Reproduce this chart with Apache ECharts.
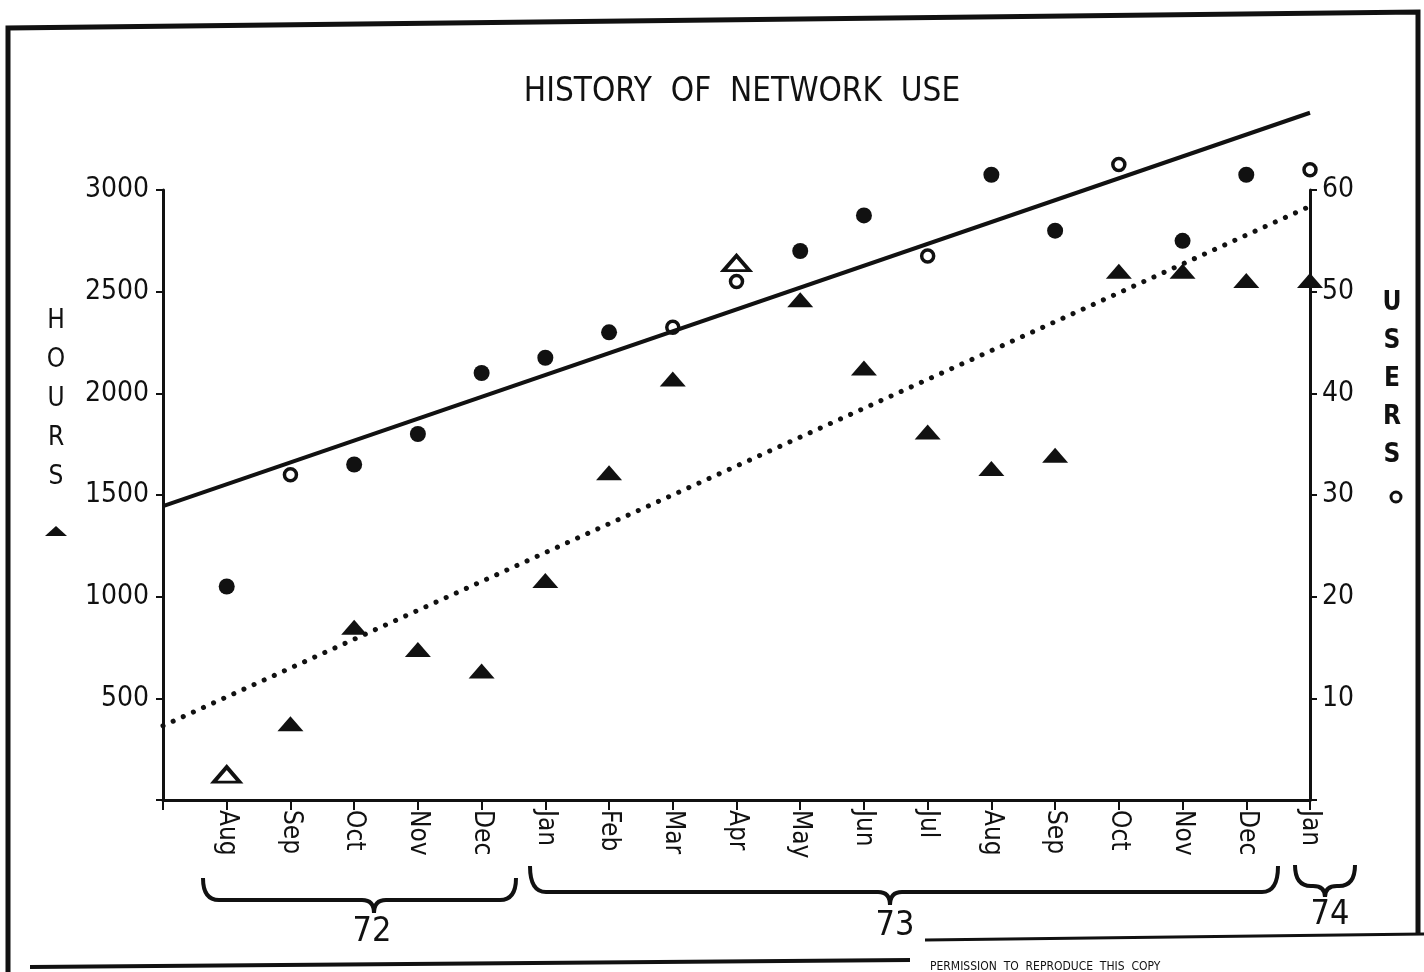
<!DOCTYPE html>
<html>
<head>
<meta charset="utf-8">
<title>History of network use</title>
<script src="https://cdn.jsdelivr.net/npm/echarts@6/dist/echarts.min.js"></script>
<style>
    html, body { margin: 0; padding: 0; background: #fff; }
    #main { width: 1424px; height: 972px; }
</style>
</head>
<body>
<div id="main"></div>
<script>
// months from Aug 72 to Jan 74, x index 0..17
var months = ['Aug', 'Sep', 'Oct', 'Nov', 'Dec', 'Jan', 'Feb', 'Mar', 'Apr',
    'May', 'Jun', 'Jul', 'Aug', 'Sep', 'Oct', 'Nov', 'Dec', 'Jan'];
// triangles, left axis
var hoursValues = [125, 375, 850, 740, 635, 1080, 1610, 2070, 2640,
    2460, 2125, 1810, 1630, 1695, 2600, 2600, 2555, 2555];
// circles, right axis
var usersValues = [21, 32, 33, 36, 42, 43.5, 46, 46.5, 51,
    54, 57.5, 53.5, 61.5, 56, 62.5, 55, 61.5, 62];
// fitted lines, value at the left axis (x = -1) and at the right axis (x = 17)
var hoursTrend = [365, 2920];
var usersTrend = [28.9, 67.6];
var trendX = [-1, 17];
var hoursTicks = [500, 1000, 1500, 2000, 2500, 3000];
var usersTicks = [10, 20, 30, 40, 50, 60];
var years = ['72', '73', '74'];

var hollowHours = [0, 8];
var hollowUsers = [1, 7, 8, 11, 14, 17];

var INK = '#111';
var FONT = "'Liberation Sans Narrow', 'DejaVu Sans Condensed', 'Open Sans', sans-serif";
var TRI = 'path://M0,12 L12,0 L24,12 Z';

var chart = echarts.init(document.getElementById('main'));

// curly brace under a group of months, drawn from curves and lines
function brace(x1, x2, xm, yTop, yLine, yTip) {
    var st = {stroke: INK, lineWidth: 4, fill: null};
    return [
        {type: 'bezierCurve', shape: {x1: x1, y1: yTop, cpx1: x1, cpy1: yLine, x2: x1 + 16, y2: yLine}, style: st},
        {type: 'line', shape: {x1: x1 + 16, y1: yLine, x2: xm - 12, y2: yLine}, style: st},
        {type: 'bezierCurve', shape: {x1: xm - 12, y1: yLine, cpx1: xm, cpy1: yLine, x2: xm, y2: yTip}, style: st},
        {type: 'bezierCurve', shape: {x1: xm, y1: yTip, cpx1: xm, cpy1: yLine, x2: xm + 12, y2: yLine}, style: st},
        {type: 'line', shape: {x1: xm + 12, y1: yLine, x2: x2 - 16, y2: yLine}, style: st},
        {type: 'bezierCurve', shape: {x1: x2 - 16, y1: yLine, cpx1: x2, cpy1: yLine, x2: x2, y2: yTop}, style: st}
    ];
}

function vertical(str) {
    return str.split('').join('\n');
}

var pointsOf = function (values, hollow) {
    return values.map(function (v, i) {
        var item = {value: [i, v]};
        if (hollow.indexOf(i) >= 0) {
            item.itemStyle = {color: '#fff', borderColor: INK, borderWidth: 3.5};
            item.symbolSize = hollow === hollowUsers ? 12 : undefined;
        }
        return item;
    });
};

var option = {
    backgroundColor: '#fff',
    animation: false,
    grid: {
        left: 163,
        right: 114,
        top: 190,
        bottom: 172
    },
    xAxis: {
        type: 'value',
        min: -1,
        max: 17,
        interval: 1,
        axisLine: {onZero: false, lineStyle: {color: INK, width: 3}},
        axisTick: {length: 10, lineStyle: {color: INK, width: 2}},
        splitLine: {show: false},
        axisLabel: {
            rotate: -90,
            margin: 10,
            color: INK,
            fontFamily: FONT,
            fontSize: 26,
            formatter: function (v) {
                return months[v] || '';
            }
        }
    },
    yAxis: [{
        type: 'value',
        min: 0,
        max: hoursTicks[hoursTicks.length - 1],
        interval: 500,
        axisLine: {show: true, onZero: false, lineStyle: {color: INK, width: 3}},
        axisTick: {show: true, length: 7, lineStyle: {color: INK, width: 2}},
        splitLine: {show: false},
        axisLabel: {
            margin: 14,
            color: INK,
            fontFamily: FONT,
            fontSize: 28,
            formatter: function (v) {
                return hoursTicks.indexOf(v) >= 0 ? v : '';
            }
        }
    }, {
        type: 'value',
        min: 0,
        max: usersTicks[usersTicks.length - 1],
        interval: 10,
        position: 'right',
        axisLine: {show: true, onZero: false, lineStyle: {color: INK, width: 3}},
        axisTick: {show: true, length: 7, lineStyle: {color: INK, width: 2}},
        splitLine: {show: false},
        axisLabel: {
            margin: 12,
            color: INK,
            fontFamily: FONT,
            fontSize: 28,
            formatter: function (v) {
                return usersTicks.indexOf(v) >= 0 ? v : '';
            }
        }
    }],
    series: [{
        name: 'users trend',
        type: 'line',
        yAxisIndex: 1,
        clip: false,
        symbol: 'none',
        data: trendX.map(function (x, i) { return [x, usersTrend[i]]; }),
        lineStyle: {color: INK, width: 4}
    }, {
        name: 'hours trend',
        type: 'line',
        yAxisIndex: 0,
        clip: false,
        symbol: 'none',
        data: trendX.map(function (x, i) { return [x, hoursTrend[i]]; }),
        lineStyle: {color: INK, width: 5, type: [0.1, 11], cap: 'round'}
    }, {
        name: 'hours',
        type: 'scatter',
        yAxisIndex: 0,
        clip: false,
        symbol: TRI,
        symbolSize: [26, 15],
        itemStyle: {color: INK, opacity: 1},
        data: pointsOf(hoursValues, hollowHours)
    }, {
        name: 'users',
        type: 'scatter',
        yAxisIndex: 1,
        clip: false,
        symbol: 'circle',
        symbolSize: 16,
        itemStyle: {color: INK, opacity: 1},
        data: pointsOf(usersValues, hollowUsers)
    }],
    graphic: [
        // page border of the scan
        {type: 'polyline', shape: {points: [[8, 972], [8, 28], [1418, 12], [1418, 935]]},
            style: {stroke: INK, lineWidth: 5, fill: null}},
        {type: 'line', shape: {x1: 30, y1: 967, x2: 910, y2: 960}, style: {stroke: INK, lineWidth: 4}},
        {type: 'line', shape: {x1: 925, y1: 940, x2: 1424, y2: 934}, style: {stroke: INK, lineWidth: 3}},
        {type: 'text', x: 930, y: 961, style: {
            text: 'PERMISSION  TO  REPRODUCE  THIS  COPY', fill: INK, font: '12px ' + FONT}},
        // title
        {type: 'text', x: 742, y: 92, style: {
            text: 'HISTORY  OF  NETWORK  USE', fill: INK, font: '33px ' + FONT,
            align: 'center', verticalAlign: 'middle'}},
        // axis names
        {type: 'text', x: 56, y: 302, style: {
            text: vertical('HOURS'), fill: INK, font: '26px ' + FONT, lineHeight: 39, align: 'center'}},
        {type: 'polygon', shape: {points: [[45, 536], [56, 526], [67, 536]]}, style: {fill: INK}},
        {type: 'text', x: 1392, y: 284, style: {
            text: vertical('USERS'), fill: INK, font: 'bold 26px ' + FONT, lineHeight: 38, align: 'center'}},
        {type: 'circle', shape: {cx: 1396, cy: 497, r: 5}, style: {fill: '#fff', stroke: INK, lineWidth: 3}},
        // year labels
        {type: 'text', x: 372, y: 932, style: {text: years[0], fill: INK, font: '34px ' + FONT,
            align: 'center', verticalAlign: 'middle'}},
        {type: 'text', x: 895, y: 926, style: {text: years[1], fill: INK, font: '34px ' + FONT,
            align: 'center', verticalAlign: 'middle'}},
        {type: 'text', x: 1330, y: 915, style: {text: years[2], fill: INK, font: '34px ' + FONT,
            align: 'center', verticalAlign: 'middle'}}
    ].concat(
        brace(203, 516, 374, 878, 900, 913),
        brace(530, 1278, 890, 866, 892, 905),
        brace(1295, 1355, 1325, 865, 886, 897)
    )
};

chart.setOption(option);
</script>
</body>
</html>
